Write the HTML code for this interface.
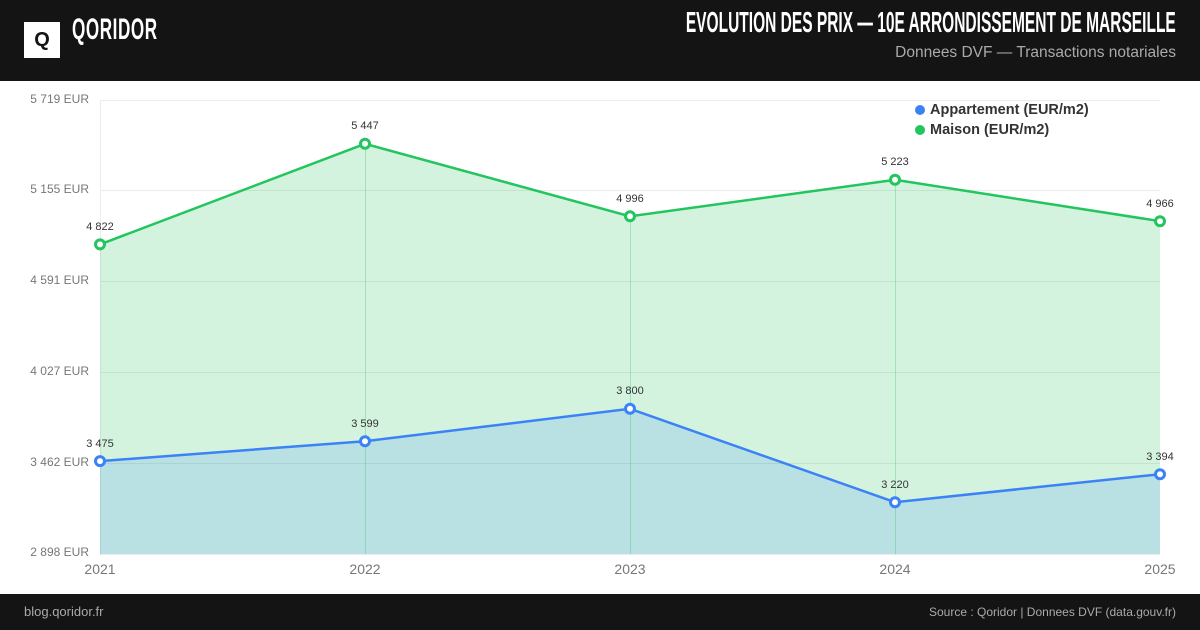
<!DOCTYPE html><html><head><meta charset="utf-8"><style>
body{margin:0;width:1200px;height:630px;background:#fff;font-family:"Liberation Sans",sans-serif;position:relative;overflow:hidden}
.hd{position:absolute;left:0;top:0;width:1200px;height:81px;background:#141414}
.ft{position:absolute;left:0;top:594px;width:1200px;height:36px;background:#141414}
</style></head><body>
<div class="hd">
<div style="position:absolute;left:24px;top:22px;width:36px;height:36px;background:#fff"></div>
<div style="position:absolute;left:24px;top:22px;width:36px;height:36px;line-height:36px;text-align:center;font-weight:bold;font-size:20px;color:#141414">Q</div>
<div style="position:absolute;left:72px;top:13px;font-size:30px;font-weight:bold;color:#fff;transform:scaleX(0.57);transform-origin:left;letter-spacing:1px">QORIDOR</div>
<div style="position:absolute;right:24px;top:7px;font-size:29px;font-weight:bold;color:#fff;transform:scaleX(0.535);transform-origin:right;white-space:nowrap">EVOLUTION DES PRIX — 10E ARRONDISSEMENT DE MARSEILLE</div>
<div style="position:absolute;right:24px;top:44px;font-size:15.5px;color:#aaa">Donnees DVF — Transactions notariales</div>
</div>
<svg width="1200" height="630" style="position:absolute;left:0;top:0" font-family="Liberation Sans, sans-serif">
<g stroke="#ececec" stroke-width="1">
<line x1="100" y1="100.5" x2="1160" y2="100.5"/><line x1="100" y1="190.5" x2="1160" y2="190.5"/><line x1="100" y1="281.5" x2="1160" y2="281.5"/><line x1="100" y1="372.5" x2="1160" y2="372.5"/><line x1="100" y1="463.5" x2="1160" y2="463.5"/><line x1="100" y1="554.5" x2="1160" y2="554.5"/>
<line x1="100.5" y1="100" x2="100.5" y2="554"/>
</g>
<polygon points="100,244.4 365,143.8 630,216.3 895,179.8 1160,221.2 1160,554 100,554" fill="rgba(34,197,94,0.2)"/>
<polygon points="100,461.1 365,441.2 630,408.8 895,502.2 1160,474.2 1160,554 100,554" fill="rgba(59,130,246,0.17)"/>
<g stroke="rgba(34,197,94,0.3)"><line x1="365.5" y1="144" x2="365.5" y2="554"/><line x1="630.5" y1="216" x2="630.5" y2="554"/><line x1="895.5" y1="180" x2="895.5" y2="554"/></g>
<polyline points="100,244.4 365,143.8 630,216.3 895,179.8 1160,221.2" fill="none" stroke="#22c55e" stroke-width="2.5"/>
<polyline points="100,461.1 365,441.2 630,408.8 895,502.2 1160,474.2" fill="none" stroke="#3b82f6" stroke-width="2.5"/>
<g fill="#fff" stroke="#22c55e" stroke-width="3">
<circle cx="100" cy="244.4" r="4.5"/><circle cx="365" cy="143.8" r="4.5"/><circle cx="630" cy="216.3" r="4.5"/><circle cx="895" cy="179.8" r="4.5"/><circle cx="1160" cy="221.2" r="4.5"/></g>
<g fill="#fff" stroke="#3b82f6" stroke-width="3">
<circle cx="100" cy="461.1" r="4.5"/><circle cx="365" cy="441.2" r="4.5"/><circle cx="630" cy="408.8" r="4.5"/><circle cx="895" cy="502.2" r="4.5"/><circle cx="1160" cy="474.2" r="4.5"/></g>
<g font-size="11" fill="#333" text-anchor="middle">
<text x="100" y="230">4 822</text><text x="365" y="129">5 447</text><text x="630" y="202">4 996</text><text x="895" y="165">5 223</text><text x="1160" y="207">4 966</text>
<text x="100" y="447">3 475</text><text x="365" y="427">3 599</text><text x="630" y="394">3 800</text><text x="895" y="488">3 220</text><text x="1160" y="460">3 394</text>
</g>
<g font-size="12" fill="#777" text-anchor="end">
<text x="89" y="103">5 719 EUR</text><text x="89" y="193">5 155 EUR</text><text x="89" y="284">4 591 EUR</text><text x="89" y="375">4 027 EUR</text><text x="89" y="466">3 462 EUR</text><text x="89" y="556">2 898 EUR</text>
</g>
<g font-size="14" fill="#777" text-anchor="middle">
<text x="100" y="574">2021</text><text x="365" y="574">2022</text><text x="630" y="574">2023</text><text x="895" y="574">2024</text><text x="1160" y="574">2025</text>
</g>
<circle cx="920" cy="110" r="5" fill="#3b82f6"/><circle cx="920" cy="130" r="5" fill="#22c55e"/>
<g font-size="14.5" font-weight="bold" fill="#333"><text x="930" y="114">Appartement (EUR/m2)</text><text x="930" y="134">Maison (EUR/m2)</text></g>
</svg>
<div class="ft">
<div style="position:absolute;left:24px;top:10px;font-size:13px;color:#aaa">blog.qoridor.fr</div>
<div style="position:absolute;right:24px;top:11px;font-size:12px;color:#aaa">Source : Qoridor | Donnees DVF (data.gouv.fr)</div>
</div>
</body></html>
